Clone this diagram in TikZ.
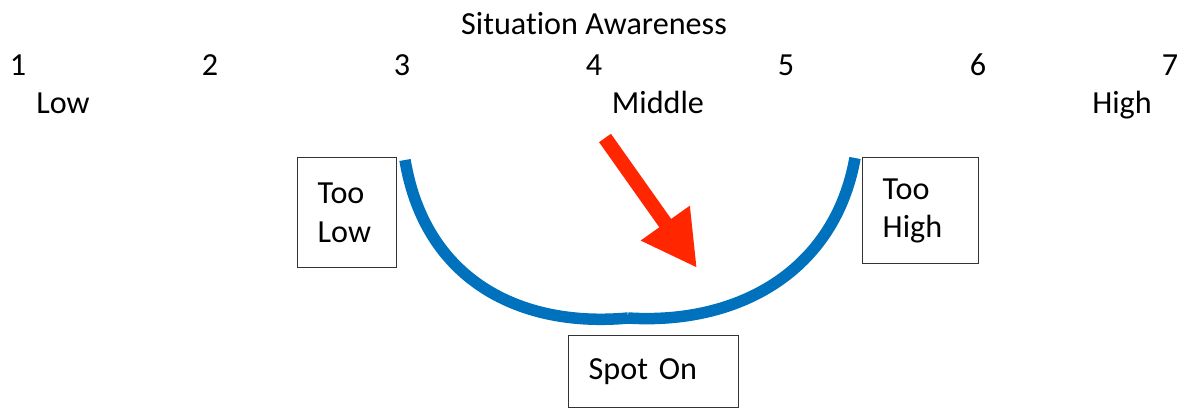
\documentclass[tikz,border=0pt]{standalone}
\usepackage{fontspec}
\setmainfont{Carlito}[Ligatures=NoCommon]
\usepackage{xcolor}
\usepackage{tikz}
\usetikzlibrary{arrows.meta, positioning}
\definecolor{curveblue}{RGB}{0, 114, 189}
\definecolor{pointred}{RGB}{255, 38, 0}

\begin{document}
\begin{tikzpicture}[
  x=0.2mm, y=-0.2mm,
  every node/.style={font=\fontsize{18.3}{21.8}\selectfont, inner sep=0pt},
  ticklabel/.style={anchor=base},
  box/.style={draw=black!80, line width=0.8pt, align=left, inner xsep=4mm, anchor=north west},
  curve/.style={draw=curveblue, line width=2.3mm},
  pointer/.style={-{Triangle[length=11mm, width=11.2mm]}, line width=2.9mm, draw=pointred}
]
  \useasboundingbox (0,0) rectangle (1190,410);

  \node[ticklabel] (title) at (594,34) {Situation Awareness};
  \foreach \n in {1,...,7}
    \node[ticklabel] (n\n) at ({18+(\n-1)*192},75) {\n};

  \node[ticklabel] (low) at (63,113) {Low};
  \node[ticklabel] (mid) at (658,113) {Middle};
  \node[ticklabel] (high) at (1122,113) {High};

  \node[box, text width=59*0.2mm, minimum height=22mm] (toolow) at (297,157) {Too\\Low};
  \node[box, text width=76*0.2mm, minimum height=21.2mm] (toohigh) at (862,157) {Too\\High};
  \node[box, text width=130*0.2mm, minimum height=14.4mm] (spot) at (568,335) {Spot On};

  \coordinate (cs) at (405,160);
  \coordinate (cm) at (628,318);
  \coordinate (ce) at (855,158);
  \draw[curve] (cs) .. controls (425,280) and (520,328) .. (cm);
  \draw[curve] (cm) .. controls (740,325) and (835,270) .. (ce);

  \coordinate (tail) at (605,138);
  \coordinate (tip) at (697,268);
  \draw[pointer] (tail) -- (tip);

\end{tikzpicture}
\end{document}
